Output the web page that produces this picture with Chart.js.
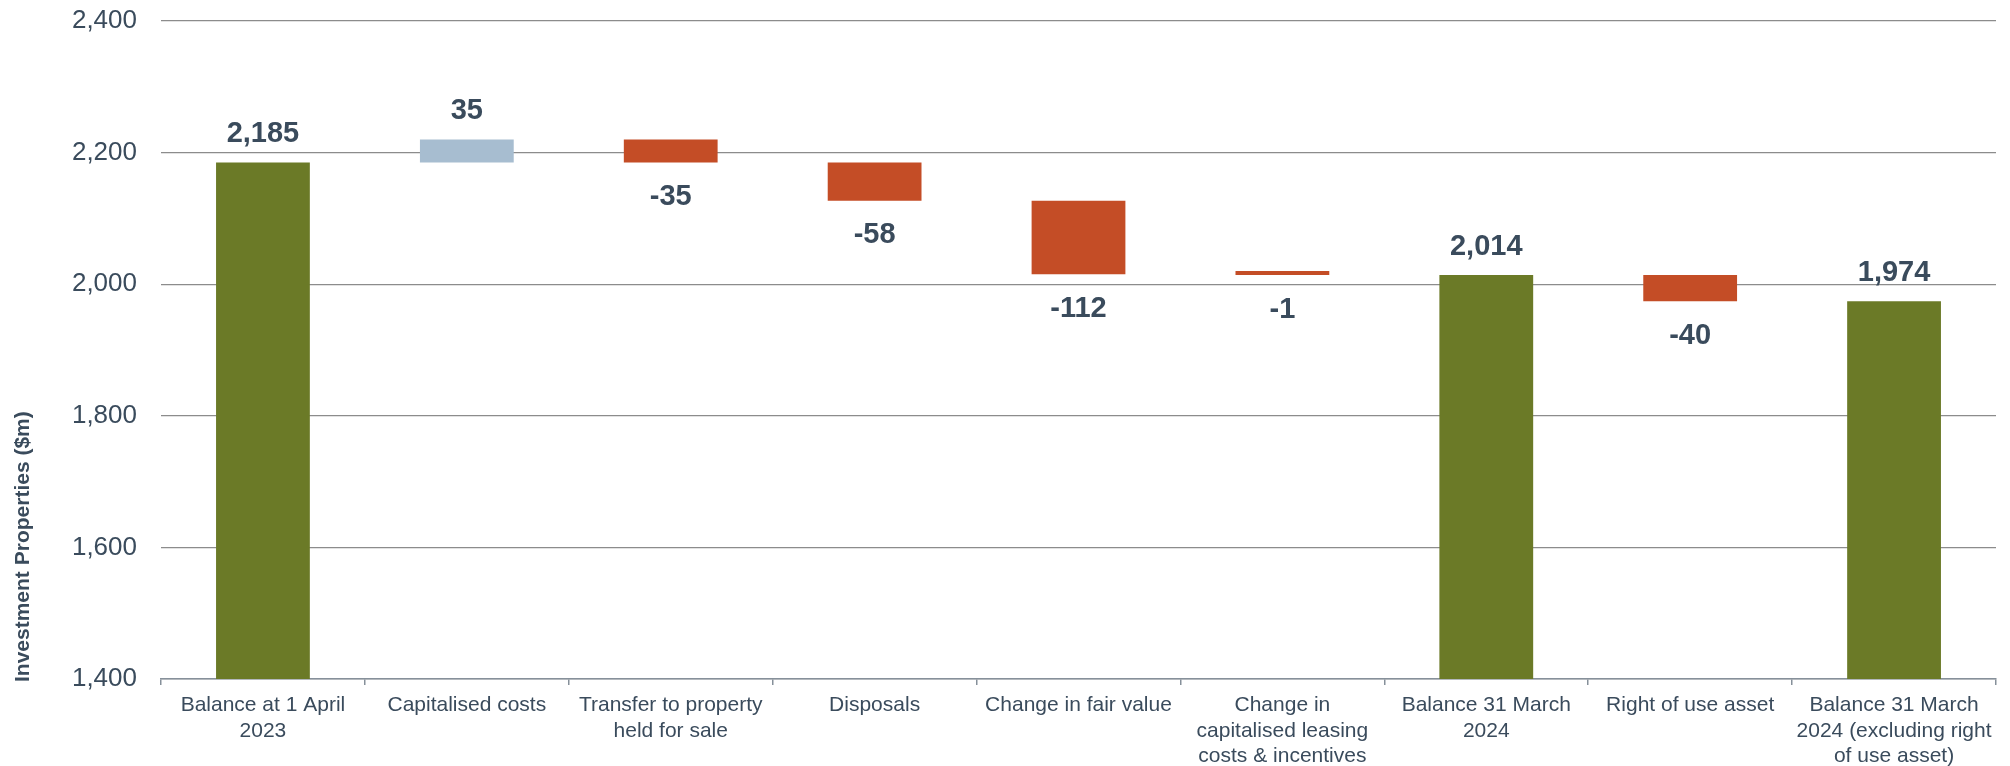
<!DOCTYPE html>
<html>
<head>
<meta charset="utf-8">
<title>Investment Properties bridge</title>
<script src="https://cdn.jsdelivr.net/npm/chart.js@4/dist/chart.umd.min.js"></script>
<style>
  html, body { margin: 0; padding: 0; background: #ffffff; }
  #wrap { width: 2010px; height: 766px; }
</style>
</head>
<body>
<div id="wrap"><canvas id="chart" width="2010" height="766"></canvas></div>
<script>
// Category labels (one entry per line of text)
const categories = [
  ['Balance at 1 April', '2023'],
  ['Capitalised costs'],
  ['Transfer to property', 'held for sale'],
  ['Disposals'],
  ['Change in fair value'],
  ['Change in', 'capitalised leasing', 'costs & incentives'],
  ['Balance 31 March', '2024'],
  ['Right of use asset'],
  ['Balance 31 March', '2024 (excluding right', 'of use asset)']
];

// Balances and movements, $m
const stepValues = [2185, 35, -35, -58, -112, -1, 2014, -40, 1974];
// 'total' bars start at the axis floor; 'change' bars float from the running balance
const stepKinds = ['total', 'change', 'change', 'change', 'change', 'change', 'total', 'change', 'total'];

// Value axis
const yMin = 1400;
const yMax = 2400;
const yStep = 200;

const COLORS = {
  total: '#6b7a27',
  increase: '#a7bdd0',
  decrease: '#c44d26',
  text: '#3a4b5c',
  grid: '#8c8c8c',
  axis: '#86909a'
};

// Build floating [from, to] ranges from the running balance
let running = 0;
const ranges = [];
const barColors = [];
stepValues.forEach((v, i) => {
  if (stepKinds[i] === 'total') {
    running = v;
    ranges.push([yMin, v]);
    barColors.push(COLORS.total);
  } else {
    const from = running;
    running = running + v;
    ranges.push([from, running]);
    barColors.push(v >= 0 ? COLORS.increase : COLORS.decrease);
  }
});

const fmt = n => n.toLocaleString('en-US');

// Value labels above totals/increases and below decreases
const valueLabels = {
  id: 'valueLabels',
  afterDatasetsDraw(chart) {
    const ctx = chart.ctx;
    const meta = chart.getDatasetMeta(0);
    const fontSize = 29;
    const cap = fontSize * 0.716;
    ctx.save();
    ctx.font = 'bold ' + fontSize + 'px "Liberation Sans", Arial, sans-serif';
    ctx.fillStyle = COLORS.text;
    ctx.textAlign = 'center';
    ctx.textBaseline = 'alphabetic';
    meta.data.forEach((bar, i) => {
      const v = stepValues[i];
      const top = Math.min(bar.y, bar.base);
      const bottom = Math.max(bar.y, bar.base);
      if (stepKinds[i] === 'total' || v >= 0) {
        ctx.fillText(fmt(v), bar.x, top - 20);
      } else {
        ctx.fillText(fmt(v), bar.x, bottom + 22 + cap);
      }
    });
    ctx.restore();
  }
};

// Vertical axis title, set toward the foot of the axis
const axisTitle = {
  id: 'axisTitle',
  afterDraw(chart) {
    const ctx = chart.ctx;
    ctx.save();
    ctx.translate(29, chart.chartArea.bottom + 3);
    ctx.rotate(-Math.PI / 2);
    ctx.font = 'bold 21px "Liberation Sans", Arial, sans-serif';
    ctx.fillStyle = COLORS.text;
    ctx.textAlign = 'left';
    ctx.textBaseline = 'alphabetic';
    ctx.fillText('Investment Properties ($m)', 0, 0);
    ctx.restore();
  }
};

new Chart(document.getElementById('chart'), {
  type: 'bar',
  data: {
    labels: categories,
    datasets: [{
      data: ranges,
      backgroundColor: barColors,
      borderWidth: 0,
      borderSkipped: false,
      barPercentage: 0.46,
      categoryPercentage: 1.0,
      minBarLength: 4
    }]
  },
  options: {
    responsive: false,
    devicePixelRatio: 1,
    animation: false,
    layout: { padding: { top: 21, right: 14, left: 0, bottom: 0 } },
    plugins: {
      legend: { display: false },
      tooltip: { enabled: false }
    },
    scales: {
      x: {
        offset: true,
        grid: {
          display: true,
          drawOnChartArea: false,
          drawTicks: true,
          tickLength: 6,
          offset: true,
          color: COLORS.axis,
          lineWidth: 1.5
        },
        border: { display: true, color: COLORS.axis, width: 1.5 },
        ticks: {
          autoSkip: false,
          maxRotation: 0,
          minRotation: 0,
          padding: 8,
          color: COLORS.text,
          font: { family: '"Liberation Sans", Arial, sans-serif', size: 21, lineHeight: 1.2 }
        },
        afterFit(scale) { scale.height = 87; }
      },
      y: {
        min: yMin,
        max: yMax,
        grid: {
          color: COLORS.grid,
          lineWidth: 1.2,
          drawTicks: false
        },
        border: { display: false },
        ticks: {
          stepSize: yStep,
          padding: 24,
          color: COLORS.text,
          font: { family: '"Liberation Sans", Arial, sans-serif', size: 26 },
          callback: v => fmt(v)
        },
        afterFit(scale) {
          scale.width = 161;
          scale.paddingTop = 0;
          scale.paddingBottom = 0;
        }
      }
    }
  },
  plugins: [valueLabels, axisTitle]
});
</script>
</body>
</html>
